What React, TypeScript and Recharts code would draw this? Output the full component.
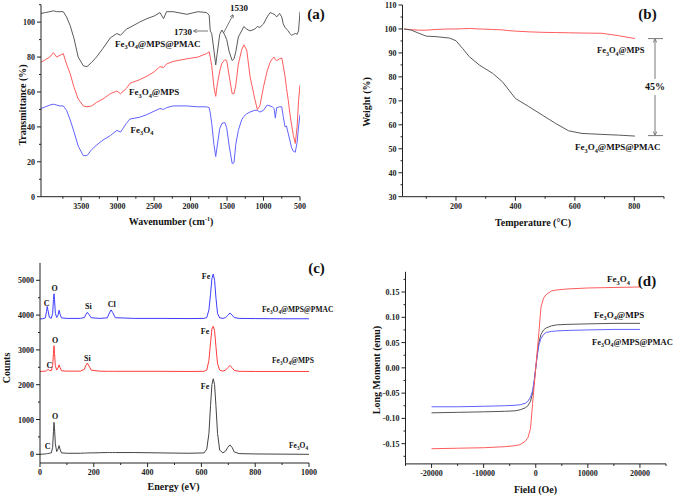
import React from "react";
import { LineChart, Line, XAxis, YAxis } from "recharts";

const SERIF = "'Times New Roman', 'Liberation Serif', Tinos, serif";
const AXIS = "#222";
const GRAY = "#5a5a5a";
const RED = "#ff5c5c";
const BLUE = "#6262ff";

// (a) FTIR
const ftirWavenumbers = [
  4050, 3990, 3930, 3880, 3835, 3790, 3745, 3700, 3650, 3600, 3540, 3470, 3420, 3355, 3290, 3200,
  3100, 3010, 2960, 2880, 2830, 2700, 2600, 2500, 2420, 2370, 2330, 2240, 2050, 1900, 1780, 1745,
  1730, 1710, 1680, 1655, 1635, 1600, 1570, 1530, 1505, 1470, 1430, 1405, 1380, 1345, 1300, 1270,
  1230, 1185, 1120, 1085, 1050, 1000, 950, 910, 880, 855, 838, 820, 780, 750, 730, 705, 685, 660,
  640, 615, 590, 565, 540, 520, 500,
];
const ftirPmac = [
  105, 105.5, 106, 106.5, 106, 106, 106, 103, 98, 91, 80, 75, 74.5, 77, 80, 85,
  91, 93.5, 92.5, 96, 97, 100, 102, 103.5, 105.5, 102, 106, 106, 104.5, 106, 105.5, 104,
  95, 93.5, 84, 75.5, 82, 93, 95.5, 92.5, 90, 83, 78, 79, 83, 91.5, 95, 97.5,
  96, 95, 96, 97.5, 97, 99, 103, 105.5, 105, 104.5, 104, 103, 105, 103, 99, 97, 96, 95,
  93.5, 92.5, 93, 93.5, 93, 95, 106,
];
const ftirMps = [
  77, 78.5, 80, 82.5, 80, 81, 82, 76, 70.5, 63, 56, 52, 51.5, 52, 54, 56,
  59, 60.5, 59, 62, 65, 67, 69, 71.5, 74.5, 74, 76, 77.5, 79, 80, 82, 83,
  80, 75, 63, 57.5, 64, 72, 76.5, 78.5, 78, 69, 59, 59, 64, 76, 84, 87,
  84, 69, 56, 50, 52, 63, 72, 77, 79, 80, 78.5, 78, 79, 79.5, 75, 69, 62, 55,
  48, 41, 35, 30.5, 40, 55, 64,
];
const ftirFe3o4 = [
  50.5, 51.5, 52.5, 53, 52.5, 52, 52, 49.5, 44, 37.5, 29, 23.5, 23.5, 27, 29.5, 32.5,
  35, 38, 37, 42, 44.5, 45.5, 47, 49, 50.5, 50, 51, 52, 52, 51.5, 51.5, 51,
  48, 42, 30, 23, 29, 39, 42, 42.5, 39.5, 29, 19, 19.5, 30, 38, 44, 46,
  47.5, 48.5, 49.5, 49.5, 48.5, 49.5, 52.5, 52, 51.5, 50.5, 45, 51, 51.5, 51.5, 46, 40, 40.5, 36,
  32.5, 28, 26, 25.5, 31, 40, 47,
];
const ftirXTicks = [3750, 3500, 3250, 3000, 2750, 2500, 2250, 2000, 1750, 1500, 1250, 1000, 750, 500];
const ftirXMajor = [3500, 3000, 2500, 2000, 1500, 1000, 500];
const ftirYTicks = [0, 10, 20, 30, 40, 50, 60, 70, 80, 90, 100, 110];
const ftirYMajor = [0, 20, 40, 60, 80, 100];

// (b) TGA
const tgaTemps = [25, 50, 75, 100, 133, 178, 200, 222, 245, 278, 323, 356, 378, 400, 445, 490, 535, 579, 624, 691, 747, 802];
const tgaMps = [100, 99.7, 99.5, 99.5, 99.8, 100, 100, 100.1, 100.2, 100, 99.8, 99.6, 99.3, 99.1, 98.8, 98.6, 98.5, 98.4, 98.3, 98.2, 97.2, 96];
const tgaPmac = [100, 99.5, 98.2, 97, 96.8, 96.2, 95.1, 91.9, 88.4, 85, 81.5, 78, 74.5, 71, 67.6, 64.1, 60.6, 57.5, 56.4, 56, 55.7, 55.3];
const tgaXTicks = [100, 200, 300, 400, 500, 600, 700, 800, 900];
const tgaXMajor = [200, 400, 600, 800];
const tgaYTicks = [30, 35, 40, 45, 50, 55, 60, 65, 70, 75, 80, 85, 90, 95, 100, 105, 110];
const tgaYMajor = [30, 40, 50, 60, 70, 80, 90, 100, 110];

// (c) EDS
const edsEnergy = [
  0, 10, 20, 24, 27, 30, 35, 42, 47, 50, 52, 54, 57, 62, 67, 71, 75, 80, 100, 150, 165, 170, 176, 182,
  190, 220, 250, 258, 264, 270, 280, 350, 450, 550, 610, 620, 628, 634, 639, 644, 649, 654, 660, 668,
  680, 690, 698, 706, 714, 722, 740, 800, 900, 1000,
];
const edsPmac = [
  3890, 3895, 3920, 4100, 4250, 4120, 3930, 3910, 4050, 4450, 4610, 4450, 4050, 3930, 4000, 4140, 4020, 3920, 3905, 3905, 3930, 4010, 4080, 4020,
  3925, 3905, 3920, 4060, 4150, 4080, 3925, 3905, 3905, 3900, 3905, 3930, 4150, 4600, 5050, 5180, 5000, 4500, 4050, 3920,
  3905, 3930, 3990, 4060, 4000, 3930, 3905, 3900, 3895, 3895,
];
const edsMps = [
  2380, 2385, 2390, 2400, 2420, 2440, 2410, 2400, 2550, 2900, 3120, 2900, 2550, 2420, 2480, 2570, 2480, 2400, 2390, 2390, 2440, 2550, 2620, 2540,
  2420, 2390, 2385, 2385, 2385, 2385, 2385, 2385, 2385, 2380, 2385, 2420, 2700, 3200, 3600, 3680, 3550, 3100, 2600, 2420,
  2390, 2420, 2490, 2550, 2490, 2410, 2385, 2380, 2380, 2380,
];
const edsFe3o4 = [
  0, 5, 10, 15, 20, 25, 30, 40, 200, 650, 920, 750, 300, 80, 150, 250, 130, 40, 30, 30, 35, 35, 40, 40,
  40, 45, 50, 50, 50, 50, 50, 50, 40, 30, 40, 150, 600, 1400, 2000, 2170, 2000, 1400, 600, 120,
  40, 90, 200, 270, 200, 70, 20, 10, 5, 0,
];
const edsXTicks = [0, 100, 200, 300, 400, 500, 600, 700, 800, 900, 1000];
const edsXMajor = [0, 200, 400, 600, 800, 1000];
const edsYTicks = [0, 500, 1000, 1500, 2000, 2500, 3000, 3500, 4000, 4500, 5000];
const edsYMajor = [0, 1000, 2000, 3000, 4000, 5000];

// (d) VSM
const vsmField = [
  -20000, -15000, -10000, -6000, -4000, -3000, -2000, -1500, -1000, -600, -300, 0,
  300, 600, 1000, 1500, 2000, 3000, 4000, 6000, 10000, 15000, 20000,
];
const vsmFe3o4 = [
  -0.16, -0.159, -0.158, -0.156, -0.154, -0.152, -0.145, -0.138, -0.12, -0.07, -0.035, 0,
  0.035, 0.07, 0.12, 0.138, 0.145, 0.152, 0.154, 0.156, 0.158, 0.159, 0.16,
];
const vsmMps = [
  -0.089, -0.088, -0.087, -0.086, -0.085, -0.083, -0.079, -0.075, -0.066, -0.05, -0.028, 0,
  0.028, 0.05, 0.066, 0.075, 0.079, 0.083, 0.085, 0.086, 0.087, 0.088, 0.088,
];
const vsmPmac = [
  -0.077, -0.077, -0.076, -0.075, -0.074, -0.073, -0.07, -0.066, -0.058, -0.045, -0.025, 0,
  0.025, 0.045, 0.058, 0.066, 0.07, 0.072, 0.073, 0.074, 0.075, 0.076, 0.076,
];
const vsmXTicks = [-25000, -20000, -15000, -10000, -5000, 0, 5000, 10000, 15000, 20000, 25000];
const vsmXMajor = [-20000, -10000, 0, 10000, 20000];
const vsmYTicks = [-0.175, -0.15, -0.125, -0.1, -0.075, -0.05, -0.025, 0, 0.025, 0.05, 0.075, 0.1, 0.125, 0.15, 0.175];
const vsmYMajor = [-0.15, -0.1, -0.05, 0, 0.05, 0.1, 0.15];

const ftirData = ftirWavenumbers.map((w, i) => ({ w, pmac: ftirPmac[i], mps: ftirMps[i], fe: ftirFe3o4[i] }));
const tgaData = tgaTemps.map((t, i) => ({ t, mps: tgaMps[i], pmac: tgaPmac[i] }));
const edsData = edsEnergy.map((e, i) => ({ e, pmac: edsPmac[i], mps: edsMps[i], fe: edsFe3o4[i] }));
const vsmData = vsmField.map((f, i) => ({ f, fe: vsmFe3o4[i], mps: vsmMps[i], pmac: vsmPmac[i] }));

// Origin-style outward ticks, long for majors, short for minors
const AxisTick = (props: any) => {
  const { x, y, payload, side, majors, fmt } = props;
  const v = payload.value;
  const major = majors.some((m: number) => Math.abs(m - v) < 1e-9);
  const len = major ? 4 : 2;
  const label = major ? (fmt ? fmt(v) : String(v)) : "";
  if (side === "x") {
    return (
      <g>
        <line x1={x} y1={y} x2={x} y2={y + len} stroke={AXIS} strokeWidth={1} />
        <text x={x} y={y + 12} textAnchor="middle" fontSize={8} fontWeight="bold" fontFamily={SERIF} fill="#222">
          {label}
        </text>
      </g>
    );
  }
  return (
    <g>
      <line x1={x} y1={y} x2={x - len} y2={y} stroke={AXIS} strokeWidth={1} />
      <text x={x - 6} y={y + 3} textAnchor="end" fontSize={8} fontWeight="bold" fontFamily={SERIF} fill="#222">
        {label}
      </text>
    </g>
  );
};

const axisCommon = {
  tickSize: 0,
  tickMargin: 0,
  interval: 0 as const,
  allowDataOverflow: true,
  axisLine: { stroke: AXIS, strokeWidth: 1 },
};

function Formula({ x, y, tail = "", size = 9, anchor = "start" }: any) {
  const sub = size * 0.3;
  const small = size * 0.7;
  return (
    <text x={x} y={y} fontSize={size} fontWeight="bold" fontFamily={SERIF} textAnchor={anchor} fill="#111">
      Fe<tspan dy={sub} fontSize={small}>3</tspan>
      <tspan dy={-sub}>O</tspan>
      <tspan dy={sub} fontSize={small}>4</tspan>
      <tspan dy={-sub}>{tail}</tspan>
    </text>
  );
}

function T({ x, y, children, size = 8, anchor = "middle", rotate = false }: any) {
  return (
    <text
      x={x}
      y={y}
      fontSize={size}
      fontWeight="bold"
      fontFamily={SERIF}
      textAnchor={anchor}
      fill="#111"
      dominantBaseline={rotate ? "central" : undefined}
      transform={rotate ? `rotate(-90 ${x} ${y})` : undefined}
    >
      {children}
    </text>
  );
}

const pos = (left: number, top: number): React.CSSProperties => ({ position: "absolute", left, top });

export default function App() {
  return (
    <div style={{ position: "absolute", left: 0, top: 0, width: 675, height: 496, background: "#fff", overflow: "hidden" }}>
      {/* (a) FTIR */}
      <div style={pos(0, 0)}>
        <LineChart width={335} height={230} data={ftirData} margin={{ top: 4.7, right: 35, bottom: 0, left: 0 }}>
          <XAxis
            {...axisCommon}
            type="number"
            dataKey="w"
            domain={[500, 4050]}
            reversed
            ticks={ftirXTicks}
            height={33.3}
            tick={<AxisTick side="x" majors={ftirXMajor} />}
          />
          <YAxis
            {...axisCommon}
            type="number"
            domain={[0, 110]}
            ticks={ftirYTicks}
            width={41}
            tick={<AxisTick side="y" majors={ftirYMajor} />}
          />
          <Line dataKey="pmac" stroke={GRAY} strokeWidth={1} dot={false} isAnimationActive={false} />
          <Line dataKey="mps" stroke={RED} strokeWidth={1} dot={false} isAnimationActive={false} />
          <Line dataKey="fe" stroke={BLUE} strokeWidth={1} dot={false} isAnimationActive={false} />
        </LineChart>
      </div>

      {/* (b) TGA */}
      <div style={pos(335, 0)}>
        <LineChart width={340} height={230} data={tgaData} margin={{ top: 5, right: 11, bottom: 0, left: 0 }}>
          <XAxis
            {...axisCommon}
            type="number"
            dataKey="t"
            domain={[20, 900]}
            ticks={tgaXTicks}
            height={33.3}
            tick={<AxisTick side="x" majors={tgaXMajor} />}
          />
          <YAxis
            {...axisCommon}
            type="number"
            domain={[30, 110]}
            ticks={tgaYTicks}
            width={67.5}
            tick={<AxisTick side="y" majors={tgaYMajor} />}
          />
          <Line dataKey="mps" stroke={RED} strokeWidth={1} dot={false} isAnimationActive={false} />
          <Line dataKey="pmac" stroke={GRAY} strokeWidth={1} dot={false} isAnimationActive={false} />
        </LineChart>
      </div>

      {/* (c) EDS */}
      <div style={pos(0, 230)}>
        <LineChart width={335} height={266} data={edsData} margin={{ top: 32.9, right: 26, bottom: 0, left: 0 }}>
          <XAxis
            {...axisCommon}
            type="number"
            dataKey="e"
            domain={[0, 1000]}
            ticks={edsXTicks}
            height={33}
            tick={<AxisTick side="x" majors={edsXMajor} />}
          />
          <YAxis
            {...axisCommon}
            type="number"
            domain={[-250, 5500]}
            ticks={edsYTicks}
            width={40}
            tick={<AxisTick side="y" majors={edsYMajor} />}
          />
          <Line dataKey="pmac" stroke="#3d3dff" strokeWidth={1} dot={false} isAnimationActive={false} />
          <Line dataKey="mps" stroke="#ff3c3c" strokeWidth={1} dot={false} isAnimationActive={false} />
          <Line dataKey="fe" stroke="#444" strokeWidth={1} dot={false} isAnimationActive={false} />
        </LineChart>
      </div>

      {/* (d) VSM */}
      <div style={pos(335, 230)}>
        <LineChart width={340} height={266} data={vsmData} margin={{ top: 41.8, right: 9, bottom: 0, left: 0 }}>
          <XAxis
            {...axisCommon}
            type="number"
            dataKey="f"
            domain={[-25000, 25000]}
            ticks={vsmXTicks}
            height={32.1}
            tick={<AxisTick side="x" majors={vsmXMajor} />}
          />
          <YAxis
            {...axisCommon}
            type="number"
            domain={[-0.19, 0.19]}
            ticks={vsmYTicks}
            width={70.5}
            tick={<AxisTick side="y" majors={vsmYMajor} fmt={(v: number) => v.toFixed(2)} />}
          />
          <Line dataKey="mps" stroke="#555" strokeWidth={1} dot={false} isAnimationActive={false} />
          <Line dataKey="pmac" stroke={BLUE} strokeWidth={1} dot={false} isAnimationActive={false} />
          <Line dataKey="fe" stroke={RED} strokeWidth={1} dot={false} isAnimationActive={false} />
        </LineChart>
      </div>

      {/* titles and annotations */}
      <svg width={675} height={496} style={{ position: "absolute", left: 0, top: 0, pointerEvents: "none" }}>
        <defs>
          <marker id="ah" viewBox="0 0 6 6" refX="5" refY="3" markerWidth="5" markerHeight="5" orient="auto">
            <path d="M0,0 L6,3 L0,6" fill="none" stroke="#555" strokeWidth={1} />
          </marker>
        </defs>

        {/* (a) */}
        <T x={22.5} y={105} size={10} rotate>Transmittance (%)</T>
        <text x={171} y={225} fontSize={10} fontWeight="bold" fontFamily={SERIF} textAnchor="middle" fill="#111">
          Wavenumber (cm<tspan dy={-4} fontSize={6}>-1</tspan><tspan dy={4}>)</tspan>
        </text>
        <T x={316} y={18.5} size={15}>(a)</T>
        <Formula x={115} y={46.5} tail="@MPS@PMAC" size={9} />
        <Formula x={129} y={95} tail="@MPS" size={9} />
        <Formula x={130.5} y={132.5} size={9} />
        <T x={174} y={34.5} size={9} anchor="start">1730</T>
        <line x1={208} y1={31} x2={194} y2={31} stroke="#555" strokeWidth={0.8} markerEnd="url(#ah)" />
        <T x={230} y={10.5} size={9} anchor="start">1530</T>
        <line x1={223.5} y1={33} x2={233} y2={15} stroke="#555" strokeWidth={0.8} markerEnd="url(#ah)" />

        {/* (b) */}
        <T x={366.5} y={102} size={10} rotate>Weight (%)</T>
        <T x={533} y={225.5} size={10}>Temperature (°C)</T>
        <T x={647.5} y={18.5} size={15}>(b)</T>
        <Formula x={597} y={53} tail="@MPS" size={8.5} />
        <Formula x={575} y={150} tail="@MPS@PMAC" size={9} />
        <line x1={648} y1={38.6} x2={663} y2={38.6} stroke="#555" strokeWidth={0.8} />
        <line x1={648} y1={135.6} x2={663} y2={135.6} stroke="#555" strokeWidth={0.8} />
        <line x1={655} y1={79} x2={655} y2={39.5} stroke="#555" strokeWidth={0.8} markerEnd="url(#ah)" />
        <line x1={655} y1={95} x2={655} y2={134.7} stroke="#555" strokeWidth={0.8} markerEnd="url(#ah)" />
        <T x={655} y={90} size={10}>45%</T>

        {/* (c) */}
        <T x={6} y={368} size={10} rotate>Counts</T>
        <T x={173.5} y={490} size={10}>Energy (eV)</T>
        <T x={316.5} y={272.5} size={15}>(c)</T>
        <T x={206} y={278.5}>Fe</T>
        <T x={54.5} y={291}>O</T>
        <T x={46.7} y={305.5}>C</T>
        <T x={88.3} y={308.5}>Si</T>
        <T x={111.7} y={307}>Cl</T>
        <Formula x={262} y={312} tail="@MPS@PMAC" size={7.5} />
        <T x={205} y={333.5}>Fe</T>
        <T x={55} y={343}>O</T>
        <T x={49.3} y={368}>C</T>
        <T x={87.3} y={360.5}>Si</T>
        <Formula x={272} y={363} tail="@MPS" size={7.5} />
        <T x={205} y={389}>Fe</T>
        <T x={55} y={419}>O</T>
        <T x={47.7} y={449}>C</T>
        <Formula x={289} y={448} size={7.5} />

        {/* (d) */}
        <T x={376.5} y={370} size={10} rotate>Long Moment (emu)</T>
        <T x={535.5} y={492.5} size={10}>Field (Oe)</T>
        <T x={647} y={286} size={15}>(d)</T>
        <Formula x={607} y={282} size={9} />
        <Formula x={594} y={317.5} tail="@MPS" size={9} />
        <Formula x={592} y={344.5} tail="@MPS@PMAC" size={8.5} />
      </svg>
    </div>
  );
}
